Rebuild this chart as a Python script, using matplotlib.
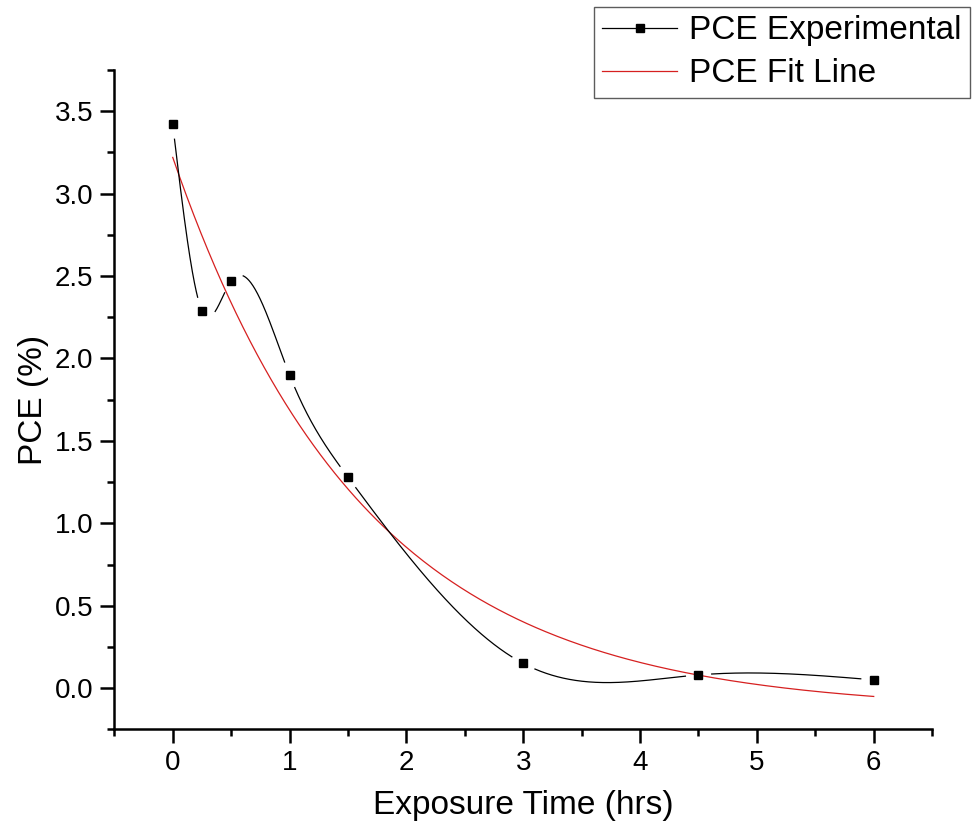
import numpy as np
import matplotlib.pyplot as plt
from matplotlib.ticker import MultipleLocator
from matplotlib.lines import Line2D

plt.rcParams['font.family'] = ['Liberation Sans', 'DejaVu Sans']

# dati sperimentali
tempo = [0, 0.25, 0.5, 1, 1.5, 3, 4.5, 6]
pce = [3.42, 2.29, 2.47, 1.90, 1.28, 0.15, 0.08, 0.05]

# parametri del fit esponenziale y = y0 + A*exp(-x/t)
fit_y0 = -0.137
fit_A = 3.357
fit_t = 1.64
fit_range = (0, 6)


def spline_naturale(x, y, xs):
    # spline cubica naturale (come il collegamento "spline" di Origin)
    x = np.asarray(x, float)
    y = np.asarray(y, float)
    n = len(x)
    h = np.diff(x)
    M = np.zeros((n, n))
    r = np.zeros(n)
    M[0, 0] = M[-1, -1] = 1
    for i in range(1, n - 1):
        M[i, i - 1] = h[i - 1]
        M[i, i] = 2 * (h[i - 1] + h[i])
        M[i, i + 1] = h[i]
        r[i] = 6 * ((y[i + 1] - y[i]) / h[i] - (y[i] - y[i - 1]) / h[i - 1])
    m = np.linalg.solve(M, r)
    k = np.clip(np.searchsorted(x, xs) - 1, 0, n - 2)
    a = x[k + 1] - xs
    b = xs - x[k]
    hk = h[k]
    return (m[k] * a**3 / (6 * hk) + m[k + 1] * b**3 / (6 * hk)
            + (y[k] / hk - m[k] * hk / 6) * a + (y[k + 1] / hk - m[k + 1] * hk / 6) * b)


fig = plt.figure(figsize=(9.73, 8.34), dpi=100)
ax = fig.add_axes([0.1175, 0.1255, 0.8405, 0.7905])
ax.set_xlim(-0.5, 6.5)
ax.set_ylim(-0.25, 3.75)

# linea spline con interruzioni vicino ai simboli
xs = np.linspace(tempo[0], tempo[-1], 2000)
ys = spline_naturale(tempo, pce, xs)
pix = ax.transData.transform(np.column_stack([xs, ys]))
punti = ax.transData.transform(np.column_stack([tempo, pce]))
dist = np.min(np.hypot(pix[:, None, 0] - punti[None, :, 0], pix[:, None, 1] - punti[None, :, 1]), axis=1)
ys_gap = np.where(dist < 13, np.nan, ys)
ax.plot(xs, ys_gap, color='black', lw=0.9, zorder=3)
ax.plot(tempo, pce, ls='none', marker='s', ms=5.8, color='black', zorder=4)

xf = np.linspace(fit_range[0], fit_range[1], 300)
ax.plot(xf, fit_y0 + fit_A * np.exp(-xf / fit_t), color='#d62020', lw=0.9, zorder=2)

# legenda
leg_exp = Line2D([], [], color='black', lw=0.9, marker='s', ms=5.8)
leg_fit = Line2D([], [], color='#d62020', lw=0.9)
leg = fig.legend([leg_exp, leg_fit], ['PCE Experimental', 'PCE Fit Line'],
                 loc='upper right', bbox_to_anchor=(970 / 973, 1 - 7 / 834),
                 borderaxespad=0, fontsize=24, frameon=True, fancybox=False,
                 edgecolor='#333333', handlelength=2.25, handletextpad=0.36,
                 labelspacing=0.36, borderpad=0.25, numpoints=1)
leg.get_frame().set_linewidth(1.0)

ax.spines['top'].set_visible(False)
ax.spines['right'].set_visible(False)
for s in ['left', 'bottom']:
    ax.spines[s].set_linewidth(1.8)

ax.xaxis.set_major_locator(MultipleLocator(1))
ax.xaxis.set_minor_locator(MultipleLocator(0.5))
ax.yaxis.set_major_locator(MultipleLocator(0.5))
ax.yaxis.set_minor_locator(MultipleLocator(0.25))
ax.tick_params(which='major', direction='out', length=10, width=1.8, labelsize=20, pad=5)
ax.tick_params(which='minor', direction='out', length=5, width=1.8)
ax.set_xticks(np.arange(0, 7, 1))
ax.set_xticklabels([str(i) for i in range(7)])

ax.set_xlabel('Exposure Time (hrs)', fontsize=24, labelpad=10)
ax.set_ylabel('PCE (%)', fontsize=24, labelpad=4)

plt.savefig('out.png', dpi=100)
